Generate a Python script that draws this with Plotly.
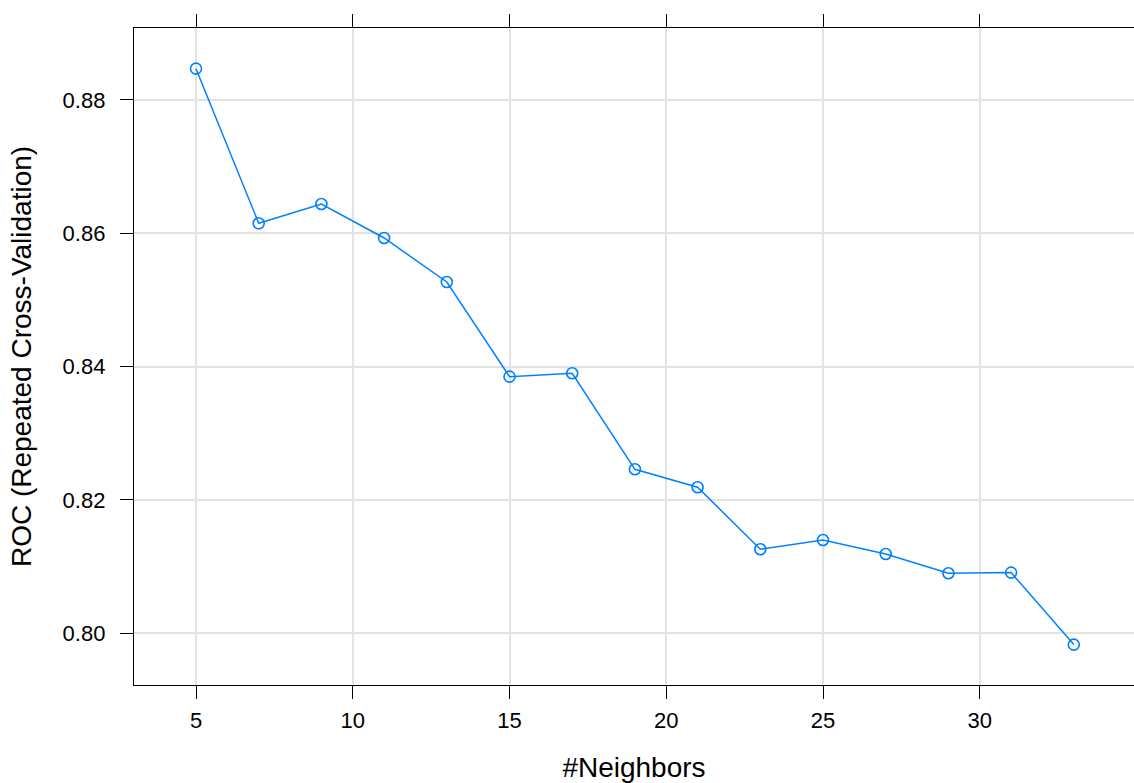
import plotly.graph_objects as go

neighbors = [5, 7, 9, 11, 13, 15, 17, 19, 21, 23, 25, 27, 29, 31, 33]
roc = [0.8847, 0.8615, 0.8644, 0.8593, 0.8527, 0.8385, 0.8390, 0.8246,
       0.8219, 0.8126, 0.8140, 0.8119, 0.8090, 0.8091, 0.7983]

x_ticks = [5, 10, 15, 20, 25, 30]
y_ticks = [0.80, 0.82, 0.84, 0.86, 0.88]

blue = "#0080ff"
font_family = "Liberation Sans, Arial, Helvetica, sans-serif"

fig = go.Figure()
fig.add_trace(go.Scatter(
    x=neighbors, y=roc, mode="lines+markers",
    line=dict(color=blue, width=1.5),
    marker=dict(symbol="circle-open", size=11, color=blue, line=dict(width=1.6, color=blue)),
    showlegend=False, hoverinfo="x+y",
))

fig.update_layout(
    width=1134, height=783,
    margin=dict(l=134, r=0, t=28, b=98),
    paper_bgcolor="white", plot_bgcolor="white",
    font=dict(family=font_family, color="black", size=22),
    xaxis=dict(
        range=[3.022, 34.92], tickvals=x_ticks,
        showgrid=True, gridcolor="#e3e3e3", gridwidth=1.5,
        showline=True, linecolor="black", linewidth=1.3, mirror="ticks",
        ticks="outside", ticklen=13, tickwidth=1.3, tickcolor="black",
        tickfont=dict(size=22), zeroline=False, ticklabelstandoff=2,
        title=dict(text="#Neighbors", font=dict(size=28), standoff=26),
        automargin=False,
    ),
    yaxis=dict(
        range=[0.79224, 0.8908], tickvals=y_ticks, tickformat=".2f",
        showgrid=True, gridcolor="#e3e3e3", gridwidth=1.5,
        showline=True, linecolor="black", linewidth=1.3, mirror=False,
        ticks="outside", ticklen=13, tickwidth=1.3, tickcolor="black",
        tickfont=dict(size=22), zeroline=False, ticklabelstandoff=10,
        title=dict(text="ROC (Repeated Cross-Validation)", font=dict(size=28), standoff=22),
        automargin=False,
    ),
)

fig.write_html("out.html")
